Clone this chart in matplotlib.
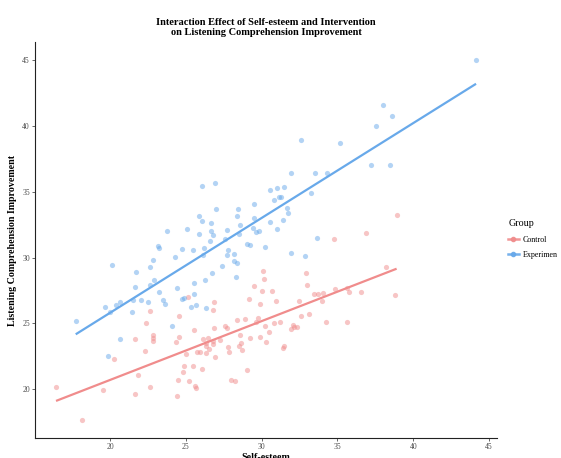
import numpy as np
import matplotlib
matplotlib.use("Agg")
import matplotlib.pyplot as plt
from matplotlib.lines import Line2D

# ---------------- data ----------------
exp_x = [44.14, 37.97, 38.60, 37.53, 32.57, 35.19, 37.18, 38.45, 31.90, 33.51,
         34.29, 31.49, 33.23, 31.24, 31.69, 31.75, 31.42, 33.62, 31.90, 32.85,
         26.08, 26.90, 30.56, 31.03, 31.16, 30.78, 29.48, 26.99, 28.45, 25.87,
         28.38, 26.08, 26.66, 29.52, 30.56, 28.55, 23.75, 25.09, 26.68, 27.74,
         29.44, 30.98, 25.89, 26.79, 28.51, 29.64, 29.83, 26.57, 27.61, 23.15,
         23.24, 24.72, 26.22, 29.04, 29.26, 30.23, 25.47, 27.80, 26.10, 22.82,
         24.28, 27.69, 28.18, 28.15, 28.40, 27.36, 22.65, 26.73, 28.31, 22.91,
         26.24, 25.56, 24.43, 23.24, 25.54, 24.89, 24.76, 23.51, 23.64, 25.67,
         25.34, 26.35, 24.05, 20.66, 20.38, 21.54, 22.05, 22.51, 19.65, 19.98,
         21.44, 17.73, 20.66, 19.89, 20.11, 21.72, 21.67, 22.65]
exp_y = [45.00, 41.62, 40.72, 40.02, 38.90, 38.71, 37.02, 37.02, 36.41, 36.41,
         36.41, 35.33, 34.88, 34.60, 33.80, 33.37, 32.86, 31.48, 30.32, 30.10,
         35.43, 35.69, 35.13, 35.26, 34.60, 34.37, 34.07, 33.67, 33.69, 33.16,
         33.14, 32.76, 32.61, 32.97, 32.71, 32.48, 32.01, 32.18, 32.03, 32.11,
         32.24, 32.16, 31.78, 31.71, 31.78, 31.91, 31.99, 31.28, 31.38, 30.90,
         30.73, 30.67, 30.73, 31.05, 30.97, 30.80, 30.55, 30.57, 30.20, 29.84,
         30.02, 30.20, 30.29, 29.74, 29.61, 29.39, 29.31, 28.86, 28.53, 28.31,
         28.29, 28.03, 27.68, 27.40, 27.20, 26.95, 26.82, 26.80, 26.47, 26.42,
         26.22, 26.14, 24.83, 26.65, 26.40, 26.74, 26.74, 26.59, 26.22, 25.89,
         25.87, 25.16, 23.78, 22.52, 29.46, 28.91, 27.73, 27.93]

ctl_x = [38.90, 36.91, 34.77, 38.23, 32.94, 33.01, 34.81, 35.61, 35.76, 36.53,
         32.43, 34.00, 33.45, 33.71, 34.07, 38.80, 32.57, 33.10, 34.24, 35.63,
         32.08, 32.12, 32.35, 31.90, 30.10, 30.17, 29.50, 29.99, 30.71, 29.17,
         30.91, 29.90, 25.16, 26.83, 26.81, 22.65, 24.54, 28.35, 28.88, 29.77,
         29.64, 30.78, 31.20, 30.25, 27.59, 27.69, 26.88, 25.54, 28.60, 30.45,
         29.87, 29.24, 30.27, 24.56, 22.86, 22.82, 22.82, 24.35, 26.13, 26.46,
         27.28, 26.79, 26.30, 28.66, 28.51, 27.76, 31.49, 31.42, 26.79, 26.53,
         26.33, 28.73, 27.85, 25.73, 25.95, 26.35, 24.98, 26.92, 24.85, 25.47,
         26.08, 29.06, 24.83, 22.65, 24.50, 25.20, 25.60, 25.67, 27.98, 28.25,
         24.41, 22.36, 21.63, 22.29, 20.24, 21.87, 16.43, 19.54, 21.63, 18.15]
ctl_y = [33.22, 31.84, 31.43, 29.31, 28.84, 27.88, 27.61, 27.68, 27.36, 27.35,
         26.67, 26.67, 27.20, 27.20, 27.30, 27.15, 25.54, 25.69, 25.11, 25.14,
         24.91, 24.71, 24.71, 24.61, 28.99, 28.38, 27.85, 27.48, 27.48, 26.87,
         26.72, 26.44, 27.00, 26.62, 26.04, 25.91, 25.59, 25.29, 25.31, 25.39,
         25.08, 25.04, 25.08, 24.83, 24.78, 24.68, 24.68, 24.48, 24.10, 24.38,
         23.93, 23.87, 23.57, 23.98, 24.08, 23.90, 23.68, 23.60, 23.85, 23.87,
         23.72, 23.68, 23.50, 23.50, 23.25, 23.23, 23.27, 23.10, 23.45, 23.07,
         23.25, 22.97, 22.79, 22.79, 22.79, 22.72, 22.64, 22.47, 21.74, 21.76,
         21.51, 21.49, 21.28, 20.17, 20.70, 20.60, 20.25, 20.10, 20.70, 20.60,
         19.45, 25.01, 23.83, 22.92, 22.27, 21.08, 20.17, 19.92, 19.65, 17.66]

groups = ["Control", "Experimen"]
x_ticks = [20, 25, 30, 35, 40, 45]
y_ticks = [20, 25, 30, 35, 40, 45]

red_line = "#F08C8C"
blue_line = "#68A9EA"

plt.rcParams['font.family'] = ['Liberation Serif', 'DejaVu Serif']

fig = plt.figure(figsize=(5.61, 4.58), dpi=100)
ax = fig.add_axes([0.0624, 0.0437, 0.8236, 0.8643])

series = [(ctl_x, ctl_y, red_line), (exp_x, exp_y, blue_line)]
for xs, ys, col in series:
    ax.scatter(xs, ys, s=14, color=col, alpha=0.5, linewidths=0, zorder=2)
for xs, ys, col in series:
    xa = np.array(xs); ya = np.array(ys)
    b, a = np.polyfit(xa, ya, 1)
    xx = np.array([xa.min(), xa.max()])
    ax.plot(xx, a + b * xx, color=col, lw=1.6, zorder=3, solid_capstyle='butt')

allx = ctl_x + exp_x
ally = ctl_y + exp_y
rx = max(allx) - min(allx); ry = max(ally) - min(ally)
ax.set_xlim(min(allx) - 0.05 * rx, max(allx) + 0.05 * rx)
ax.set_ylim(min(ally) - 0.05 * ry, max(ally) + 0.05 * ry)
ax.set_xticks(x_ticks)
ax.set_yticks(y_ticks)
ax.tick_params(axis='both', labelsize=5.5, colors='#4D4D4D', length=2.2, width=0.6, pad=1.5)
for s in ['top', 'right']:
    ax.spines[s].set_visible(False)
for s in ['left', 'bottom']:
    ax.spines[s].set_linewidth(0.8)
    ax.spines[s].set_color('#222222')

ax.set_xlabel("Self-esteem", fontsize=7.2, fontweight='bold', labelpad=1)
ax.set_ylabel("Listening Comprehension Improvement", fontsize=7.2, fontweight='bold', labelpad=3.5)
ax.set_title("Interaction Effect of Self-esteem and Intervention\non Listening Comprehension Improvement",
             fontsize=7.5, fontweight='bold', pad=5, linespacing=1.2)

handles = [Line2D([0], [0], color=red_line, lw=1.8, marker='o', markersize=3, alpha=0.9),
           Line2D([0], [0], color=blue_line, lw=1.8, marker='o', markersize=3, alpha=0.9)]
leg = fig.legend(handles, groups, title="Group", loc='center left',
                 bbox_to_anchor=(0.893, 0.478), frameon=False, fontsize=5.8,
                 title_fontsize=7.2, handlelength=1.3, handletextpad=0.5, labelspacing=0.9)
leg._legend_box.align = "left"

fig.savefig("out.png", dpi=100)
